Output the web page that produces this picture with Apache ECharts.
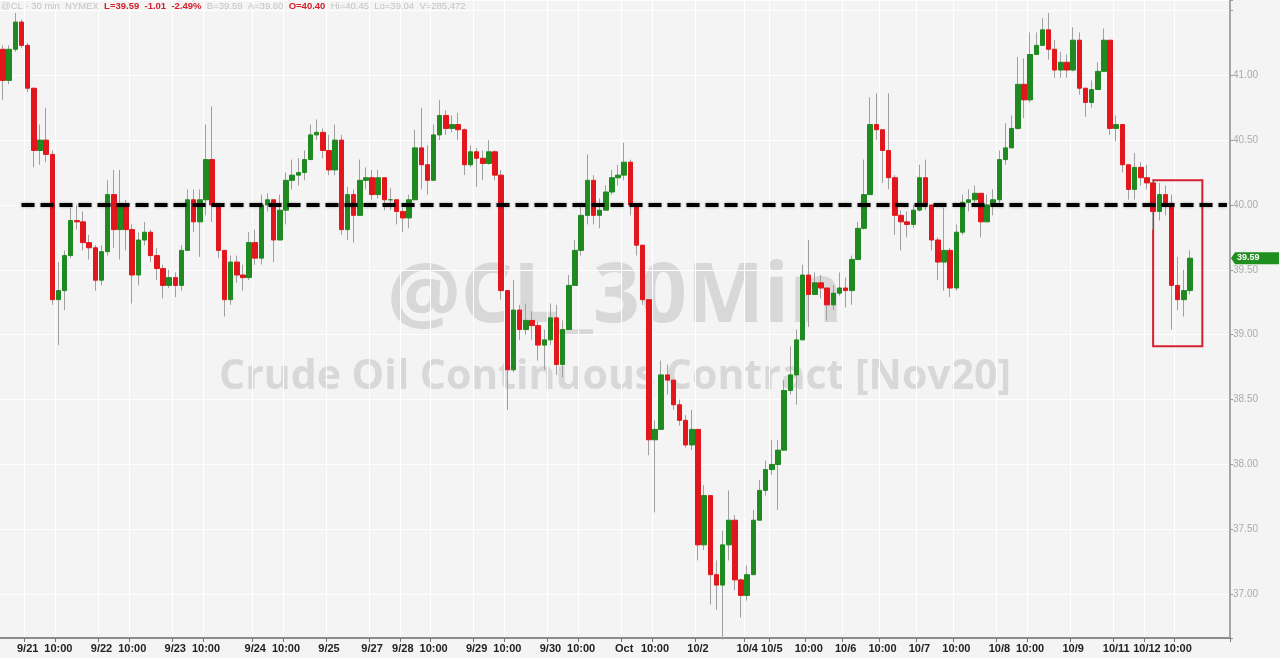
<!DOCTYPE html>
<html>
<head>
<meta charset="utf-8">
<script src="https://cdn.jsdelivr.net/npm/echarts@6/dist/echarts.min.js"></script>
<style>
html,body{margin:0;padding:0;background:#f4f4f4;}
#main{width:1280px;height:658px;}
</style>
</head>
<body>
<div id="main"></div>
<script>
// ---- data (30-min crude oil, resampled bars) ----
const firstOpen = 41.20;
const closes = [40.96,41.20,41.41,41.23,40.90,40.42,40.50,40.39,39.27,39.34,
39.61,39.88,39.87,39.71,39.67,39.42,39.64,40.08,39.81,40.00,
39.81,39.46,39.73,39.79,39.61,39.51,39.38,39.44,39.38,39.65,
40.04,39.87,40.04,40.35,40.00,39.65,39.27,39.56,39.46,39.44,
39.71,39.59,40.00,40.04,39.73,39.96,40.19,40.23,40.25,40.35,
40.54,40.56,40.42,40.27,40.50,39.81,40.08,39.92,40.19,40.21,
40.08,40.21,40.04,40.04,39.95,39.90,40.04,40.44,40.31,40.19,
40.54,40.69,40.59,40.62,40.58,40.31,40.41,40.36,40.32,40.41,
40.23,39.34,38.73,39.19,39.04,39.11,39.07,38.92,38.96,39.13,
38.77,39.04,39.38,39.65,39.92,40.19,39.92,39.96,40.10,40.21,
40.23,40.33,40.00,39.69,39.27,38.19,38.27,38.69,38.65,38.46,
38.34,38.15,38.27,37.38,37.76,37.15,37.07,37.38,37.57,37.11,
36.99,37.15,37.57,37.80,37.96,38.00,38.11,38.57,38.69,38.96,
39.46,39.31,39.40,39.36,39.23,39.32,39.36,39.34,39.58,39.82,
40.08,40.62,40.58,40.42,40.21,39.92,39.87,39.85,39.96,40.21,
40.00,39.73,39.56,39.65,39.36,39.79,40.02,40.04,40.09,39.87,
40.00,40.04,40.35,40.44,40.59,40.93,40.81,41.16,41.23,41.35,
41.20,41.04,41.10,41.04,41.27,40.90,40.79,40.89,41.03,41.27,
40.59,40.62,40.31,40.12,40.29,40.21,40.17,39.95,40.08,40.00,
39.38,39.27,39.34,39.59];
const highs = [41.23,41.23,41.48,41.43,41.25,40.90,40.62,40.75,40.42,39.56,
39.65,39.98,40.00,39.95,39.77,39.69,39.69,40.19,40.27,40.27,
40.04,39.85,39.79,39.87,39.81,39.67,39.54,39.50,39.48,39.69,
40.12,40.12,40.12,40.62,40.76,39.96,39.65,39.61,39.61,39.54,
39.79,39.81,40.08,40.09,40.02,40.08,40.25,40.35,40.36,40.42,
40.62,40.66,40.59,40.54,40.62,40.54,40.14,40.12,40.35,40.29,
40.27,40.27,40.19,40.13,40.04,39.98,40.08,40.58,40.75,40.46,
40.62,40.81,40.73,40.69,40.71,40.59,40.46,40.44,40.42,40.50,
40.42,40.27,39.34,39.42,39.23,39.24,39.18,39.10,39.04,39.24,
39.23,39.11,39.46,39.73,40.00,40.39,40.23,40.05,40.15,40.27,
40.31,40.48,40.35,40.00,39.69,39.27,38.34,38.80,38.77,38.65,
38.50,38.38,38.42,38.27,37.84,37.73,37.26,37.49,37.80,37.61,
37.12,37.22,37.65,37.88,38.03,38.19,38.19,38.65,38.91,39.04,
39.54,39.73,39.48,39.46,39.36,39.38,39.48,39.44,39.61,39.87,
40.35,40.83,40.86,40.58,40.86,40.23,39.96,39.95,40.00,40.31,
40.35,40.00,39.75,39.98,39.67,39.85,40.08,40.12,40.15,40.08,
40.08,40.12,40.42,40.63,40.69,41.14,41.13,41.33,41.33,41.44,
41.48,41.27,41.18,41.16,41.37,41.33,40.90,40.96,41.10,41.36,
41.23,40.69,40.50,40.31,40.40,40.33,40.31,40.19,40.17,40.15,
40.08,39.60,39.50,39.65];
const lows = [40.81,40.93,41.18,41.21,40.87,40.29,40.31,40.33,39.23,38.92,
39.19,39.59,39.81,39.65,39.58,39.34,39.38,39.61,39.67,39.58,
39.65,39.24,39.38,39.69,39.56,39.42,39.28,39.36,39.29,39.34,
39.65,39.79,39.60,39.92,39.87,39.59,39.14,39.23,39.40,39.34,
39.42,39.54,39.54,39.95,39.56,39.77,39.85,40.12,40.15,40.19,
40.35,40.50,40.36,40.23,40.23,39.77,39.73,39.71,39.92,40.12,
40.04,40.05,39.96,39.96,39.85,39.79,39.82,40.04,40.12,40.08,
40.27,40.50,40.54,40.56,40.50,40.23,40.29,40.14,40.19,40.31,
40.19,39.27,38.42,38.71,38.96,39.00,38.96,38.80,38.73,38.92,
38.69,38.67,39.04,39.38,39.61,39.85,39.85,39.82,39.96,40.08,
40.15,40.19,39.92,39.61,39.23,38.07,37.63,38.27,38.54,38.42,
38.30,38.13,38.11,37.26,37.34,36.92,36.88,36.65,37.26,37.03,
36.82,36.95,37.15,37.61,37.76,37.92,37.65,38.15,38.54,38.46,
38.96,39.06,39.31,39.28,39.11,39.19,39.30,39.21,39.23,39.59,
39.81,40.15,40.50,40.17,40.12,39.77,39.65,39.75,39.82,39.95,
39.96,39.65,39.42,39.34,39.29,39.34,39.77,39.95,40.00,39.75,
39.87,39.92,40.00,40.31,40.44,40.58,40.67,40.79,41.16,41.23,
41.12,40.98,40.98,40.98,41.03,40.85,40.68,40.75,40.89,41.03,
40.54,40.49,40.25,40.04,40.04,40.15,40.12,39.81,39.88,39.92,
39.04,39.19,39.14,39.31];
const slotCount = 200;
const tickIndex = [4,9,16,21,28,33,41,46,53,60,65,70,77,82,89,94,101,106,113,121,125,131,137,143,149,155,162,167,174,181,186,191];
const tickText = ['9/21','10:00','9/22','10:00','9/23','10:00','9/24','10:00','9/25','9/27','9/28','10:00','9/29','10:00','9/30','10:00','Oct','10:00','10/2','10/4','10/5','10:00','10/6','10:00','10/7','10:00','10/8','10:00','10/9','10/11','10/12','10:00'];
const refLevel = 40.00;
const refStartSlot = 3;
const boxSlots = [187, 195];
const boxPrices = [40.19, 38.91];
const watermark1 = '@CL_30Min';
const watermark2 = 'Crude Oil Continuous Contract [Nov20]';

// ---- build library inputs ----
const categories = [];
for (let i = 0; i < slotCount; i++) categories.push(String(i));
const wickData = [], bodyData = [];
for (let i = 0; i < closes.length; i++) {
  const o = i === 0 ? firstOpen : closes[i - 1];
  const c = closes[i];
  wickData.push([o, c, lows[i], highs[i]]);
  bodyData.push([o, c, Math.min(o, c), Math.max(o, c)]);
}
const tickSet = new Set(tickIndex);
const tickLabel = {};
tickIndex.forEach((k, j) => tickLabel[k] = tickText[j]);
const showTick = (idx) => tickSet.has(idx);

const chart = echarts.init(document.getElementById('main'), null, {renderer: 'canvas'});
const UP = '#1f8a1f', DOWN = '#e3161b';
const option = {
  backgroundColor: '#f4f4f4',
  animation: false,
  grid: {left: 0, right: 50, top: 0, bottom: 20},
  xAxis: {
    type: 'category',
    data: categories,
    boundaryGap: true,
    axisLine: {lineStyle: {color: '#8c8c8c', width: 2}},
    axisTick: {show: true, interval: (i) => showTick(i), length: 4, lineStyle: {color: '#777'}},
    axisLabel: {
      interval: (i) => showTick(i),
      formatter: (v, i) => tickLabel[i] || '',
      color: '#222', fontSize: 11, fontFamily: 'Liberation Sans Narrow, Liberation Sans, Arial', fontWeight: 'bold', margin: 5
    },
    splitLine: {show: true, interval: (i) => showTick(i), lineStyle: {color: '#ffffff', width: 1}}
  },
  yAxis: {
    type: 'value',
    position: 'right',
    min: 36.662,
    max: 41.58,
    splitNumber: 10,
    axisLine: {show: true, lineStyle: {color: '#888', width: 1.5}},
    axisTick: {show: true, length: 3, lineStyle: {color: '#999'}},
    axisLabel: {
      color: '#ababab', fontSize: 10, margin: 3, fontFamily: 'Liberation Sans, Arial',
      formatter: (v) => (v > 36.9 && v < 41.2) ? v.toFixed(2) : ''
    },
    splitLine: {show: true, lineStyle: {color: '#ffffff', width: 1}}
  },
  series: [
    {
      type: 'candlestick', name: 'wick', data: wickData, barWidth: 1, z: 3,
      itemStyle: {color: '#a0a0a0', color0: '#a0a0a0', borderColor: '#a0a0a0', borderColor0: '#a0a0a0', borderWidth: 1}
    },
    {
      type: 'candlestick', name: 'body', data: bodyData, barWidth: 5, z: 4,
      itemStyle: {color: UP, color0: DOWN, borderColor: UP, borderColor0: DOWN, borderWidth: 1},
      markLine: {
        silent: true, symbol: ['none', 'none'], z: 10,
        label: {show: false},
        lineStyle: {color: '#000', width: 4, type: [13, 6], shadowColor: 'rgba(0,0,0,0.35)', shadowBlur: 3},
        data: [[{coord: [categories[refStartSlot], refLevel]}, {coord: [categories[slotCount - 1], refLevel]}]]
      },
      markArea: {
        silent: true,
        itemStyle: {color: 'rgba(0,0,0,0)', borderColor: '#d42030', borderWidth: 2},
        data: [[{xAxis: categories[boxSlots[0]], yAxis: boxPrices[0]}, {xAxis: categories[boxSlots[1]], yAxis: boxPrices[1]}]]
      }
    }
  ]
};
chart.setOption(option);

// graphics positioned from the chart's own scales
const last = closes[closes.length - 1];
const py = chart.convertToPixel({yAxisIndex: 0}, last);
const cx = chart.convertToPixel({xAxisIndex: 0}, categories[Math.round(slotCount / 2)]) - 3;
const ax = 1231;
chart.setOption({
  graphic: [
    {type: 'text', x: cx, y: 258, z: -10, silent: true,
     style: {text: watermark1, textAlign: 'center', font: 'bold 82px "Open Sans", sans-serif', fill: '#d8d8d8'}},
    {type: 'text', x: cx, y: 357, z: -10, silent: true,
     style: {text: watermark2, textAlign: 'center', font: 'bold 41px "Open Sans", sans-serif', fill: '#d8d8d8'}},
    {type: 'text', left: 1, top: 1, z: 100, silent: true,
     style: {
       text: '{g|@CL - 30 min  NYMEX  }{r|L=39.59  -1.01  -2.49%  }{g|B=39.59  A=39.60  }{r|O=40.40  }{g|Hi=40.45  Lo=39.04  V=285,472}',
       rich: {
         g: {fill: '#c4c4c4', font: '9.5px "Liberation Sans", Arial'},
         r: {fill: '#d3202a', font: 'bold 9.5px "Liberation Sans", Arial'}
       }
     }},
    {type: 'polygon', z: 50, silent: true,
     shape: {points: [[ax, py], [ax + 4, py - 6], [1279, py - 6], [1279, py + 6], [ax + 4, py + 6]]},
     style: {fill: '#1f8f1f'}},
    {type: 'text', z: 51, silent: true, x: ax + 6, y: py - 5,
     style: {text: last.toFixed(2), font: 'bold 9px "Liberation Sans", Arial', fill: '#ffffff'}}
  ]
});
</script>
</body>
</html>
